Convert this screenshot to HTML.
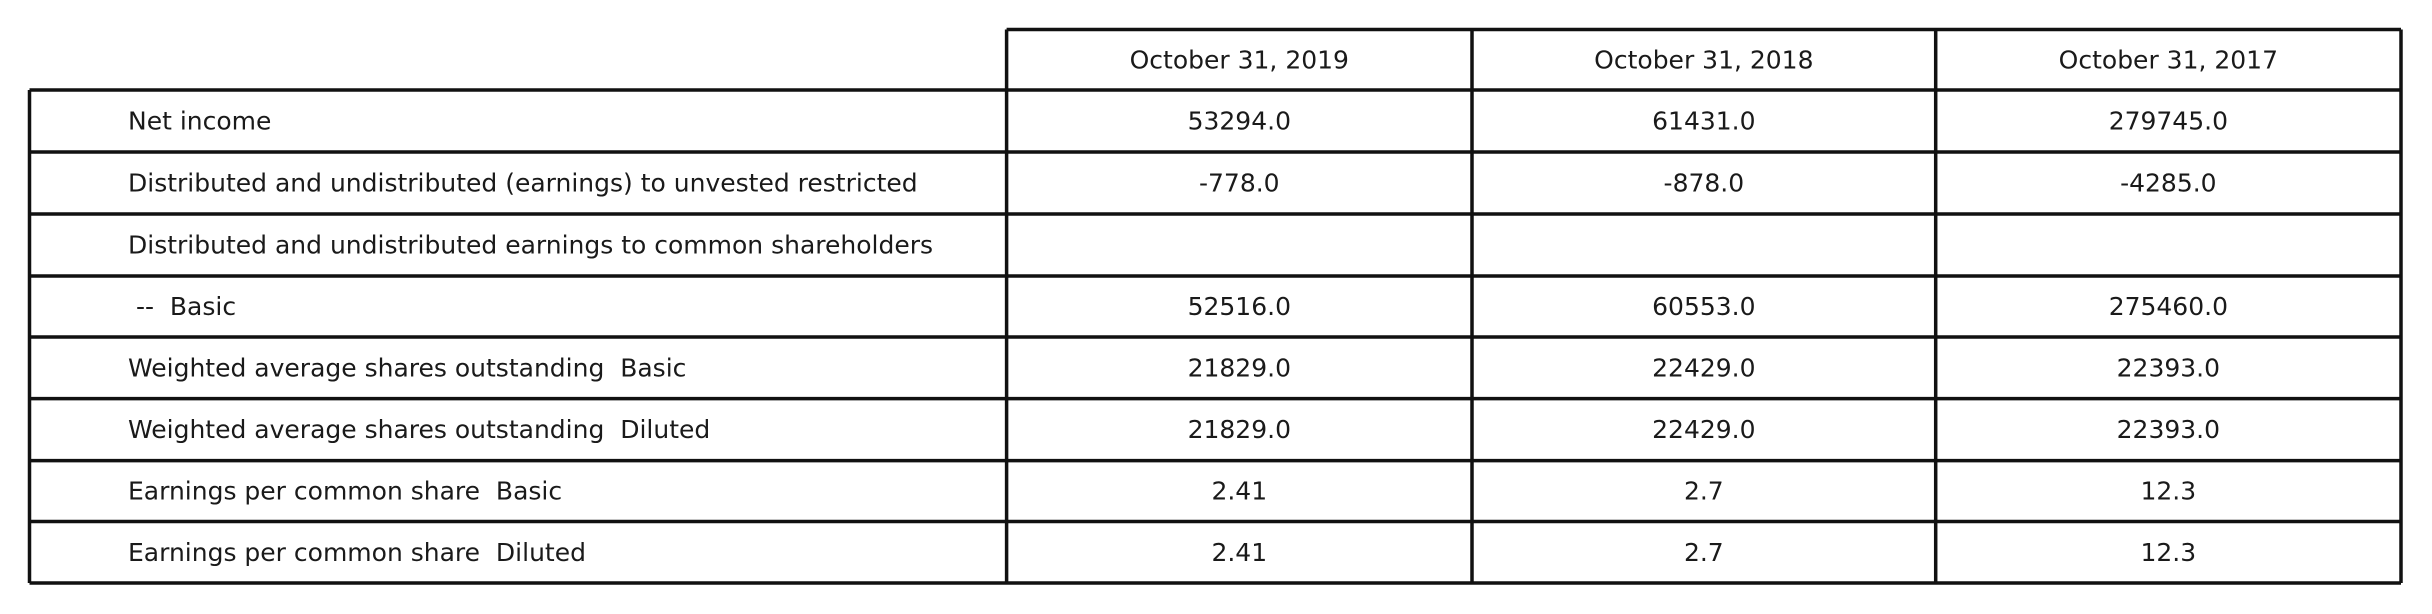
<!DOCTYPE html>
<html><head><meta charset="utf-8"><style>
html,body{margin:0;padding:0;background:#fff;}
svg{display:block;}
text{font-family:"DejaVu Sans","Liberation Sans",sans-serif;font-size:25px;fill:#1a1a1a;dominant-baseline:central;}
</style></head><body>
<svg id="tbl" width="2432" height="614" viewBox="0 0 2432 614"></svg>
<script>
const headers=["October 31, 2019","October 31, 2018","October 31, 2017"];
const labels=["Net income","Distributed and undistributed (earnings) to unvested restricted","Distributed and undistributed earnings to common shareholders"," --  Basic","Weighted average shares outstanding  Basic","Weighted average shares outstanding  Diluted","Earnings per common share  Basic","Earnings per common share  Diluted"];
const col2019=["53294.0","-778.0","","52516.0","21829.0","21829.0","2.41","2.41"];
const col2018=["61431.0","-878.0","","60553.0","22429.0","22429.0","2.7","2.7"];
const col2017=["279745.0","-4285.0","","275460.0","22393.0","22393.0","12.3","12.3"];
const svgEl=document.getElementById('tbl');
const NS='http://www.w3.org/2000/svg';
const tblL=29.5,tblR=2401,cols=[1006.6,1472,1935.7],tblTop=29.5;
const rowYs=[90,152,214,276,337,398.6,460.6,521.5,583];
function line(x1,y1,x2,y2){const l=document.createElementNS(NS,'line');l.setAttribute('x1',x1);l.setAttribute('y1',y1);l.setAttribute('x2',x2);l.setAttribute('y2',y2);l.setAttribute('stroke','#111');l.setAttribute('stroke-width','3.5');


svgEl.appendChild(l);}
function txt(x,y,s,anchor,name){const t=document.createElementNS(NS,'text');t.setAttribute('x',x);t.setAttribute('y',y);t.setAttribute('text-anchor',anchor);t.style.whiteSpace='pre';t.textContent=s;


svgEl.appendChild(t);}
const lastY=rowYs[rowYs.length-1];
line(cols[0],tblTop,tblR,tblTop);
cols.forEach(c=>line(c,tblTop,c,lastY));
line(tblR,tblTop,tblR,lastY);
line(tblL,rowYs[0],tblL,lastY);
rowYs.forEach(y=>line(tblL,y,tblR,y));
const centers=[(cols[0]+cols[1])/2,(cols[1]+cols[2])/2,(cols[2]+tblR)/2];
headers.forEach((h,i)=>txt(centers[i],(tblTop+rowYs[0])/2,h,'middle','column-header'));
const dataCols=[col2019,col2018,col2017];
labels.forEach((lab,r)=>{const cy=(rowYs[r]+rowYs[r+1])/2;
txt(128,cy,lab,'start','row-label');
dataCols.forEach((c,i)=>{if(c[r]!=='')txt(centers[i],cy,c[r],'middle','cell-value');});});
</script>
</body></html>
